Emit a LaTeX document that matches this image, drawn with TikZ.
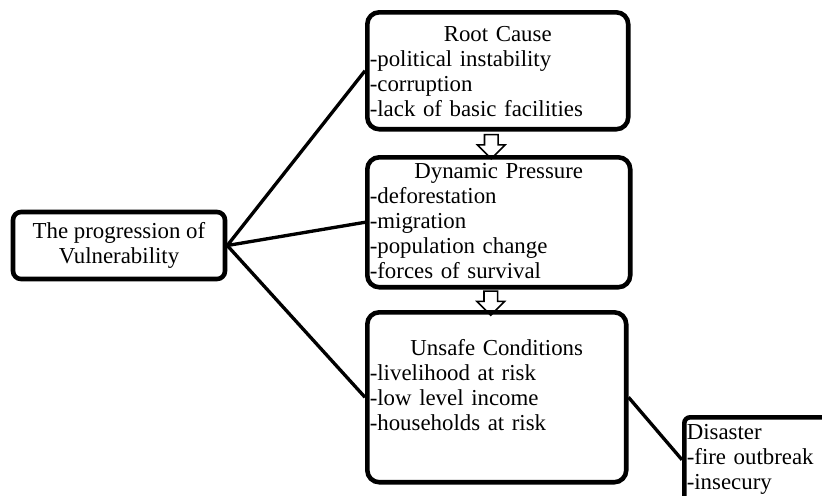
\documentclass[tikz,border=0pt]{standalone}
\usepackage{fontspec}
\setmainfont{Liberation Serif}
\usetikzlibrary{shapes.arrows}

\tikzset{
  frame/.style={draw, line width=2.6pt, font=\fontsize{13}{14.2}\selectfont},
  box/.style={frame, rounded corners=0.24cm, anchor=north west, inner xsep=0.05cm, inner ysep=0pt},
  link/.style={line width=1.9pt},
  hollowarrow/.style={single arrow, draw, line width=0.9pt, inner sep=0.12cm,
    minimum width=0.52cm, minimum height=0.48cm, single arrow head extend=0.14cm,
    shape border rotate=270, xshift=-0.14cm},
}

\begin{document}
\begin{tikzpicture}[x=0.02cm, y=-0.02cm]
  % canvas, one unit is one pixel of the reference
  \useasboundingbox (0,0) rectangle (822,495);
  \clip (0,0) rectangle (822,495);

  % start of the chain
  \node[frame, rounded corners=0.16cm, align=center, inner sep=0pt,
        minimum width=4.24cm, minimum height=1.34cm] (prog) at (119,245.5)
    {The progression of\\Vulnerability};

  % the three stages
  \node[box, text width=5.12cm, text height=0.58cm, text depth=1.76cm] (root) at (365,10)
    {\centering Root Cause\par\raggedright -political instability\\-corruption\\-lack of basic facilities};
  \node[box, text width=5.16cm, text height=0.42cm, text depth=2.18cm] (dyn) at (365,155)
    {\centering Dynamic Pressure\par\raggedright -deforestation\\-migration\\-population change\\-forces of survival};
  \node[box, text width=5.08cm, text height=0.86cm, text depth=2.54cm] (unsafe) at (365,310)
    {\centering Unsafe Conditions\par\raggedright -livelihood at risk\\-low level income\\-households at risk};

  % end result, runs off the page
  \node[box, rounded corners=0.12cm, align=left, text width=3.06cm, text height=0.44cm, text depth=1.26cm] (disaster) at (682,415)
    {Disaster\\-fire outbreak\\-insecury};

  % connectors
  \foreach \s in {root,dyn,unsafe}{
    \draw[link] (prog.east) -- (\s.west);
  }
  \draw[link] (unsafe.east) -- (disaster.west);

  % block arrows between the stages
  \foreach \a/\b in {root/dyn,dyn/unsafe}{
    \path (\a.south) -- (\b.north) node[midway, hollowarrow] {};
  }
\end{tikzpicture}
\end{document}
